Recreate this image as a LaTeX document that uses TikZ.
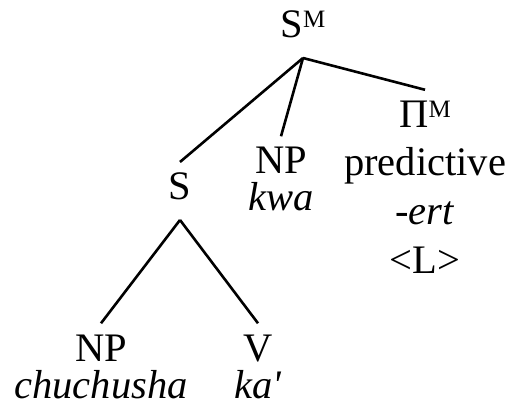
\documentclass[tikz,border=0pt]{standalone}
\usepackage{fontspec}
\setmainfont{Liberation Serif}
% small capital M raised to the cap line of the preceding letter
\newcommand{\supM}{\raisebox{10pt}{\fontsize{25pt}{25pt}\selectfont M}}
\begin{document}
\begin{tikzpicture}[x=1pt,y=-1pt,
  lbl/.style={anchor=base, inner xsep=0pt, inner ysep=11pt, align=center,
              font=\fontsize{40.5pt}{48.5pt}\selectfont},
  lowlbl/.style={lbl, font=\fontsize{40.5pt}{37pt}\selectfont},
  branch/.style={line width=2.6pt}]
\useasboundingbox (0,0) rectangle (509,414);
% labels (placed by the baseline of their last line)
\node[lbl] (sm) at (303,38) {S\supM};
\node[lbl] (s) at (180,200) {S};
\node[lowlbl] (np) at (281,211) {NP\\\textit{kwa}};
\node[lbl] (pim) at (425,273) {Π\supM\\predictive\\\textit{-ert}\\<L>};
\node[lowlbl] (np2) at (101,398) {NP\\\textit{chuchusha}};
\node[lowlbl] (v) at (258,398) {V\\\textit{ka\textquotesingle}};
% branching points below the mothers
\coordinate (apex) at ([yshift=-20pt]sm.base);
\coordinate (sfoot) at ([yshift=-20pt]s.base);
% branches
\draw[branch] (apex) -- (s.north);
\draw[branch] (apex) -- (np.north);
\draw[branch] (apex) -- (pim.north);
\draw[branch] (sfoot) -- (np2.north);
\draw[branch] (sfoot) -- (v.north);
\end{tikzpicture}
\end{document}
